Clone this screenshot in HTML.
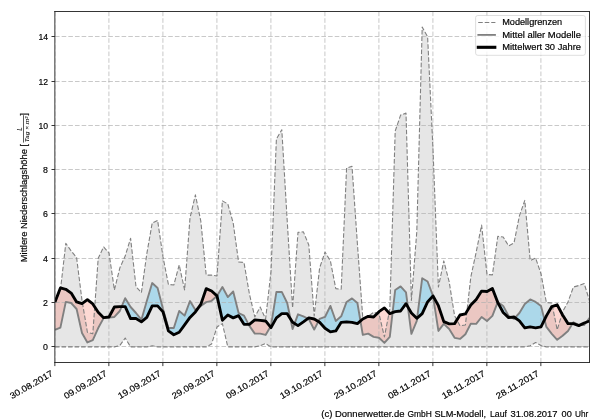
<!DOCTYPE html>
<html><head><meta charset="utf-8"><title>Niederschlag</title>
<style>html,body{margin:0;padding:0;background:#fff}body{width:600px;height:420px;overflow:hidden;font-family:"Liberation Sans",sans-serif}</style></head>
<body>
<svg width="600" height="420" viewBox="0 0 600 420" style="display:block">
<rect width="600" height="420" fill="#fff"/>
<defs><clipPath id="c"><rect x="55" y="11.5" width="534.5" height="351"/></clipPath></defs>
<g clip-path="url(#c)">
<path d="M55 302.58 L60.4 290.39 L65.8 243.41 L71.2 250.95 L76.6 257.6 L82 300.36 L87.4 332.27 L92.8 333.83 L98.2 258.26 L103.6 246.96 L109 252.94 L114.4 289.95 L119.8 268.01 L125.2 256.04 L130.6 238.32 L136 286.62 L141.4 292.61 L146.8 253.83 L152.2 223.03 L157.6 220.37 L163 256.93 L168.4 284.41 L173.8 285.07 L179.2 264.91 L184.6 289.95 L190 217.93 L195.4 194.88 L200.8 221.03 L206.2 275.1 L211.6 275.1 L217 275.99 L222.4 200.87 L227.8 203.97 L233.2 223.03 L238.6 262.03 L244 262.47 L249.4 293.94 L254.8 316.98 L260.2 307.01 L265.6 318.98 L271 271.56 L276.4 139.04 L281.8 129.73 L287.2 220.59 L292.6 307.9 L298 232.33 L303.4 231.89 L308.8 244.96 L314.2 315.88 L319.6 268.01 L325 252.06 L330.4 260.92 L335.8 288.62 L341.2 289.28 L346.6 168.07 L352 166.3 L357.4 243.86 L362.8 318.09 L368.2 316.32 L373.6 312.33 L379 313.66 L384.4 336.93 L389.8 309.23 L395.2 131.06 L400.6 115.11 L406 113.11 L411.4 300.36 L416.8 231.67 L422.2 27.13 L427.6 36.66 L433 149.68 L438.4 287.07 L443.8 260.92 L449.2 281.97 L454.6 315.88 L460 325.85 L465.4 324.96 L470.8 277.1 L476.2 252.06 L481.6 225.02 L487 274.44 L492.4 274.88 L497.8 236.32 L503.2 236.99 L508.6 245.85 L514 242.97 L519.4 215.93 L524.8 200.42 L530.2 260.48 L535.6 258.04 L541 273.77 L546.4 302.58 L551.8 303.02 L557.2 329.84 L562.6 311.89 L568 301.92 L573.4 287.07 L578.8 285.52 L584.2 283.52 L589.6 301.03 L589.6 346.9 L584.2 346.9 L578.8 346.9 L573.4 346.9 L568 346.9 L562.6 346.9 L557.2 346.9 L551.8 346.9 L546.4 346.9 L541 345.57 L535.6 342.47 L530.2 345.79 L524.8 346.9 L519.4 346.9 L514 346.9 L508.6 346.9 L503.2 346.9 L497.8 346.9 L492.4 346.9 L487 346.9 L481.6 346.9 L476.2 346.9 L470.8 346.9 L465.4 346.9 L460 346.9 L454.6 346.9 L449.2 346.9 L443.8 346.9 L438.4 346.9 L433 346.9 L427.6 346.9 L422.2 346.9 L416.8 346.9 L411.4 346.9 L406 346.9 L400.6 346.9 L395.2 346.9 L389.8 346.9 L384.4 346.9 L379 346.9 L373.6 346.9 L368.2 346.9 L362.8 346.9 L357.4 346.9 L352 346.9 L346.6 346.9 L341.2 346.9 L335.8 346.9 L330.4 346.9 L325 346.9 L319.6 346.9 L314.2 346.9 L308.8 346.9 L303.4 346.9 L298 346.9 L292.6 346.9 L287.2 346.9 L281.8 346.9 L276.4 346.9 L271 346.9 L265.6 343.58 L260.2 345.79 L254.8 346.9 L249.4 346.9 L244 346.9 L238.6 346.9 L233.2 346.9 L227.8 346.9 L222.4 323.63 L217 326.96 L211.6 344.02 L206.2 346.9 L200.8 346.9 L195.4 346.9 L190 346.9 L184.6 346.9 L179.2 346.9 L173.8 346.9 L168.4 346.9 L163 346.9 L157.6 346.9 L152.2 345.79 L146.8 346.9 L141.4 346.9 L136 346.9 L130.6 346.9 L125.2 338.04 L119.8 345.57 L114.4 346.9 L109 346.9 L103.6 346.9 L98.2 346.9 L92.8 346.9 L87.4 346.9 L82 346.9 L76.6 346.9 L71.2 346.9 L65.8 346.9 L60.4 346.9 L55 346.9Z" fill="#808080" fill-opacity="0.2"/>
<path d="M121.66 306.57 L125.2 298.15 L130.6 307.01 L136 313 L141.4 319.64 L146.8 301.03 L152.2 283.08 L157.6 287.95 L163 309.01 L168.4 328.06 L173.8 328.06 L179.2 311 L184.6 315.65 L190 301.03 L195.4 309.89 L198.44 307.65 L198.44 307.65 L195.4 311.89 L190 317.43 L184.6 324.96 L179.2 332.27 L173.8 334.71 L168.4 330.94 L163 311.89 L157.6 305.9 L152.2 305.9 L146.8 317.43 L141.4 321.86 L136 318.54 L130.6 318.54 L125.2 306.57 L121.66 306.57Z M217 295.93 L222.4 287.07 L227.8 297.04 L233.2 291.5 L238.6 313 L244 315.65 L248.58 324.3 L248.58 324.3 L244 324.3 L238.6 315.65 L233.2 317.87 L227.8 314.99 L222.4 320.31 L217 295.93Z M270.39 326.87 L271 325.85 L276.4 291.94 L281.8 291.94 L287.2 303.02 L290.52 318.98 L290.52 318.98 L287.2 313.66 L281.8 313.66 L276.4 317.87 L271 327.62 L270.39 326.87Z M294.6 323.53 L298 314.32 L303.4 316.32 L307.9 318.54 L307.9 318.54 L303.4 321.86 L298 325.63 L294.6 323.53Z M318.31 321.51 L319.6 318.98 L325 316.98 L330.4 305.9 L335.8 320.97 L341.2 316.32 L346.6 301.92 L352 298.37 L357.4 303.02 L360.44 321.01 L360.44 321.01 L357.4 323.63 L352 322.3 L346.6 321.86 L341.2 322.3 L335.8 330.94 L330.4 331.83 L325 328.29 L319.6 322.3 L318.31 321.51Z M392.59 312.63 L395.2 289.95 L400.6 286.4 L406 292.39 L407.9 306.96 L407.9 306.96 L406 303.69 L400.6 311 L395.2 311.67 L392.59 312.63Z M417.18 317.99 L422.2 278.2 L427.6 281.53 L433 295.93 L433 295.93 L427.6 301.92 L422.2 313.66 L417.18 317.99Z M497.67 302.24 L497.8 301.92 L503.2 305.9 L508.6 315.88 L511.14 317.34 L511.14 317.34 L508.6 317.65 L503.2 312.55 L497.8 302.58 L497.67 302.24Z M515.08 317.78 L519.4 313 L524.8 303.91 L530.2 299.48 L535.6 301.92 L541 305.9 L544.54 319.7 L544.54 319.7 L541 326.96 L535.6 327.84 L530.2 326.96 L524.8 327.84 L519.4 320.97 L515.08 317.78Z M572.57 323.63 L573.4 322.3 L578.8 324.96 L580.15 324.96 L580.15 324.96 L578.8 325.63 L573.4 323.63 L572.57 323.63Z M586.31 322.19 L589.6 317.87 L589.6 320.97 L586.31 322.19Z " fill="#87ceeb" fill-opacity="0.62"/>
<path d="M55 329.84 L60.4 327.62 L65.8 301.92 L71.2 303.02 L76.6 309.01 L82 332.94 L87.4 342.47 L92.8 340.03 L98.2 328.06 L103.6 318.09 L109 317.43 L114.4 316.98 L119.8 311 L121.66 306.57 L121.66 306.57 L119.8 306.57 L114.4 307.01 L109 316.98 L103.6 317.65 L98.2 312.33 L92.8 303.91 L87.4 299.7 L82 303.69 L76.6 301.92 L71.2 293.05 L65.8 289.28 L60.4 287.95 L55 301.92Z M198.44 307.65 L200.8 305.9 L206.2 302.14 L211.6 300.81 L217 295.93 L217 295.93 L211.6 291.06 L206.2 288.62 L200.8 304.35 L198.44 307.65Z M248.58 324.3 L249.4 325.85 L254.8 333.6 L260.2 333.6 L265.6 334.93 L270.39 326.87 L270.39 326.87 L265.6 320.97 L260.2 320.31 L254.8 319.86 L249.4 324.3 L248.58 324.3Z M290.52 318.98 L292.6 328.95 L294.6 323.53 L294.6 323.53 L292.6 322.3 L290.52 318.98Z M307.9 318.54 L308.8 318.98 L314.2 329.62 L318.31 321.51 L318.31 321.51 L314.2 318.98 L308.8 317.87 L307.9 318.54Z M360.44 321.01 L362.8 334.93 L368.2 333.6 L373.6 336.93 L379 337.81 L384.4 342.91 L389.8 336.93 L392.59 312.63 L392.59 312.63 L389.8 313.66 L384.4 307.9 L379 311.67 L373.6 316.98 L368.2 316.32 L362.8 318.98 L360.44 321.01Z M407.9 306.96 L411.4 333.83 L416.8 320.97 L417.18 317.99 L417.18 317.99 L416.8 318.31 L411.4 313 L407.9 306.96Z M433 295.93 L438.4 330.94 L443.8 323.85 L449.2 328.95 L454.6 337.81 L460 338.92 L465.4 334.27 L470.8 323.63 L476.2 323.85 L481.6 316.98 L487 320.97 L492.4 315.88 L497.67 302.24 L497.67 302.24 L492.4 288.4 L487 291.5 L481.6 291.06 L476.2 299.48 L470.8 305.02 L465.4 313.88 L460 314.99 L454.6 323.63 L449.2 323.85 L443.8 321.64 L438.4 305.68 L433 295.93Z M511.14 317.34 L514 318.98 L515.08 317.78 L515.08 317.78 L514 316.98 L511.14 317.34Z M544.54 319.7 L546.4 326.96 L551.8 333.83 L557.2 339.81 L562.6 335.82 L568 330.94 L572.57 323.63 L572.57 323.63 L568 323.63 L562.6 314.99 L557.2 304.8 L551.8 306.57 L546.4 315.88 L544.54 319.7Z M580.15 324.96 L584.2 324.96 L586.31 322.19 L586.31 322.19 L584.2 322.97 L580.15 324.96Z " fill="#fa8072" fill-opacity="0.3"/>
<path d="M54.9 362.5 V11.5 M108.9 362.5 V11.5 M162.9 362.5 V11.5 M216.9 362.5 V11.5 M270.9 362.5 V11.5 M324.9 362.5 V11.5 M378.9 362.5 V11.5 M432.9 362.5 V11.5 M486.9 362.5 V11.5 M540.9 362.5 V11.5 M55 346.5 H589.5 M55 302.5 H589.5 M55 258.5 H589.5 M55 213.5 H589.5 M55 169.5 H589.5 M55 125.5 H589.5 M55 81.5 H589.5 M55 36.5 H589.5" stroke="#b0b0b0" stroke-opacity="0.68" stroke-width="1.0" stroke-dasharray="4.6 2.06" fill="none"/>
<polyline points="55,302.58 60.4,290.39 65.8,243.41 71.2,250.95 76.6,257.6 82,300.36 87.4,332.27 92.8,333.83 98.2,258.26 103.6,246.96 109,252.94 114.4,289.95 119.8,268.01 125.2,256.04 130.6,238.32 136,286.62 141.4,292.61 146.8,253.83 152.2,223.03 157.6,220.37 163,256.93 168.4,284.41 173.8,285.07 179.2,264.91 184.6,289.95 190,217.93 195.4,194.88 200.8,221.03 206.2,275.1 211.6,275.1 217,275.99 222.4,200.87 227.8,203.97 233.2,223.03 238.6,262.03 244,262.47 249.4,293.94 254.8,316.98 260.2,307.01 265.6,318.98 271,271.56 276.4,139.04 281.8,129.73 287.2,220.59 292.6,307.9 298,232.33 303.4,231.89 308.8,244.96 314.2,315.88 319.6,268.01 325,252.06 330.4,260.92 335.8,288.62 341.2,289.28 346.6,168.07 352,166.3 357.4,243.86 362.8,318.09 368.2,316.32 373.6,312.33 379,313.66 384.4,336.93 389.8,309.23 395.2,131.06 400.6,115.11 406,113.11 411.4,300.36 416.8,231.67 422.2,27.13 427.6,36.66 433,149.68 438.4,287.07 443.8,260.92 449.2,281.97 454.6,315.88 460,325.85 465.4,324.96 470.8,277.1 476.2,252.06 481.6,225.02 487,274.44 492.4,274.88 497.8,236.32 503.2,236.99 508.6,245.85 514,242.97 519.4,215.93 524.8,200.42 530.2,260.48 535.6,258.04 541,273.77 546.4,302.58 551.8,303.02 557.2,329.84 562.6,311.89 568,301.92 573.4,287.07 578.8,285.52 584.2,283.52 589.6,301.03" fill="none" stroke="#808080" stroke-width="1.1" stroke-dasharray="4.55 1.97" stroke-linejoin="round"/>
<polyline points="55,346.9 60.4,346.9 65.8,346.9 71.2,346.9 76.6,346.9 82,346.9 87.4,346.9 92.8,346.9 98.2,346.9 103.6,346.9 109,346.9 114.4,346.9 119.8,345.57 125.2,338.04 130.6,346.9 136,346.9 141.4,346.9 146.8,346.9 152.2,345.79 157.6,346.9 163,346.9 168.4,346.9 173.8,346.9 179.2,346.9 184.6,346.9 190,346.9 195.4,346.9 200.8,346.9 206.2,346.9 211.6,344.02 217,326.96 222.4,323.63 227.8,346.9 233.2,346.9 238.6,346.9 244,346.9 249.4,346.9 254.8,346.9 260.2,345.79 265.6,343.58 271,346.9 276.4,346.9 281.8,346.9 287.2,346.9 292.6,346.9 298,346.9 303.4,346.9 308.8,346.9 314.2,346.9 319.6,346.9 325,346.9 330.4,346.9 335.8,346.9 341.2,346.9 346.6,346.9 352,346.9 357.4,346.9 362.8,346.9 368.2,346.9 373.6,346.9 379,346.9 384.4,346.9 389.8,346.9 395.2,346.9 400.6,346.9 406,346.9 411.4,346.9 416.8,346.9 422.2,346.9 427.6,346.9 433,346.9 438.4,346.9 443.8,346.9 449.2,346.9 454.6,346.9 460,346.9 465.4,346.9 470.8,346.9 476.2,346.9 481.6,346.9 487,346.9 492.4,346.9 497.8,346.9 503.2,346.9 508.6,346.9 514,346.9 519.4,346.9 524.8,346.9 530.2,345.79 535.6,342.47 541,345.57 546.4,346.9 551.8,346.9 557.2,346.9 562.6,346.9 568,346.9 573.4,346.9 578.8,346.9 584.2,346.9 589.6,346.9" fill="none" stroke="#808080" stroke-width="1.1" stroke-dasharray="4.55 1.97" stroke-linejoin="round"/>
<polyline points="55,329.84 60.4,327.62 65.8,301.92 71.2,303.02 76.6,309.01 82,332.94 87.4,342.47 92.8,340.03 98.2,328.06 103.6,318.09 109,317.43 114.4,316.98 119.8,311 125.2,298.15 130.6,307.01 136,313 141.4,319.64 146.8,301.03 152.2,283.08 157.6,287.95 163,309.01 168.4,328.06 173.8,328.06 179.2,311 184.6,315.65 190,301.03 195.4,309.89 200.8,305.9 206.2,302.14 211.6,300.81 217,295.93 222.4,287.07 227.8,297.04 233.2,291.5 238.6,313 244,315.65 249.4,325.85 254.8,333.6 260.2,333.6 265.6,334.93 271,325.85 276.4,291.94 281.8,291.94 287.2,303.02 292.6,328.95 298,314.32 303.4,316.32 308.8,318.98 314.2,329.62 319.6,318.98 325,316.98 330.4,305.9 335.8,320.97 341.2,316.32 346.6,301.92 352,298.37 357.4,303.02 362.8,334.93 368.2,333.6 373.6,336.93 379,337.81 384.4,342.91 389.8,336.93 395.2,289.95 400.6,286.4 406,292.39 411.4,333.83 416.8,320.97 422.2,278.2 427.6,281.53 433,295.93 438.4,330.94 443.8,323.85 449.2,328.95 454.6,337.81 460,338.92 465.4,334.27 470.8,323.63 476.2,323.85 481.6,316.98 487,320.97 492.4,315.88 497.8,301.92 503.2,305.9 508.6,315.88 514,318.98 519.4,313 524.8,303.91 530.2,299.48 535.6,301.92 541,305.9 546.4,326.96 551.8,333.83 557.2,339.81 562.6,335.82 568,330.94 573.4,322.3 578.8,324.96 584.2,324.96 589.6,317.87" fill="none" stroke="#808080" stroke-width="1.9" stroke-linejoin="round"/>
<polyline points="55,301.92 60.4,287.95 65.8,289.28 71.2,293.05 76.6,301.92 82,303.69 87.4,299.7 92.8,303.91 98.2,312.33 103.6,317.65 109,316.98 114.4,307.01 119.8,306.57 125.2,306.57 130.6,318.54 136,318.54 141.4,321.86 146.8,317.43 152.2,305.9 157.6,305.9 163,311.89 168.4,330.94 173.8,334.71 179.2,332.27 184.6,324.96 190,317.43 195.4,311.89 200.8,304.35 206.2,288.62 211.6,291.06 217,295.93 222.4,320.31 227.8,314.99 233.2,317.87 238.6,315.65 244,324.3 249.4,324.3 254.8,319.86 260.2,320.31 265.6,320.97 271,327.62 276.4,317.87 281.8,313.66 287.2,313.66 292.6,322.3 298,325.63 303.4,321.86 308.8,317.87 314.2,318.98 319.6,322.3 325,328.29 330.4,331.83 335.8,330.94 341.2,322.3 346.6,321.86 352,322.3 357.4,323.63 362.8,318.98 368.2,316.32 373.6,316.98 379,311.67 384.4,307.9 389.8,313.66 395.2,311.67 400.6,311 406,303.69 411.4,313 416.8,318.31 422.2,313.66 427.6,301.92 433,295.93 438.4,305.68 443.8,321.64 449.2,323.85 454.6,323.63 460,314.99 465.4,313.88 470.8,305.02 476.2,299.48 481.6,291.06 487,291.5 492.4,288.4 497.8,302.58 503.2,312.55 508.6,317.65 514,316.98 519.4,320.97 524.8,327.84 530.2,326.96 535.6,327.84 541,326.96 546.4,315.88 551.8,306.57 557.2,304.8 562.6,314.99 568,323.63 573.4,323.63 578.8,325.63 584.2,322.97 589.6,320.97" fill="none" stroke="#000" stroke-width="2.85" stroke-linejoin="round" stroke-linecap="butt"/>
</g>
<path d="M54.85 11 V363 M589.5 11 V363 M54.3 11.5 H590 M54.3 362.5 H590" fill="none" stroke="#2a2a2a" stroke-width="0.95"/>
<g opacity="0.999" stroke="#000" stroke-width="0.18">
<path d="M54.85 362.5 v3.6 M108.85 362.5 v3.6 M162.85 362.5 v3.6 M216.85 362.5 v3.6 M270.85 362.5 v3.6 M324.85 362.5 v3.6 M378.85 362.5 v3.6 M432.85 362.5 v3.6 M486.85 362.5 v3.6 M540.85 362.5 v3.6 M55 346.5 h-3.5 M55 302.5 h-3.5 M55 258.5 h-3.5 M55 213.5 h-3.5 M55 169.5 h-3.5 M55 125.5 h-3.5 M55 81.5 h-3.5 M55 36.5 h-3.5" stroke="#2a2a2a" stroke-width="0.95" fill="none"/>
<text x="48" y="349.6" font-family="Liberation Sans, sans-serif" font-size="8.7" text-anchor="end" textLength="4.9" lengthAdjust="spacingAndGlyphs" fill="#000">0</text>
<text x="48" y="305.6" font-family="Liberation Sans, sans-serif" font-size="8.7" text-anchor="end" textLength="4.9" lengthAdjust="spacingAndGlyphs" fill="#000">2</text>
<text x="48" y="261.6" font-family="Liberation Sans, sans-serif" font-size="8.7" text-anchor="end" textLength="4.9" lengthAdjust="spacingAndGlyphs" fill="#000">4</text>
<text x="48" y="216.6" font-family="Liberation Sans, sans-serif" font-size="8.7" text-anchor="end" textLength="4.9" lengthAdjust="spacingAndGlyphs" fill="#000">6</text>
<text x="48" y="172.6" font-family="Liberation Sans, sans-serif" font-size="8.7" text-anchor="end" textLength="4.9" lengthAdjust="spacingAndGlyphs" fill="#000">8</text>
<text x="48" y="128.6" font-family="Liberation Sans, sans-serif" font-size="8.7" text-anchor="end" textLength="9.6" lengthAdjust="spacingAndGlyphs" fill="#000">10</text>
<text x="48" y="84.6" font-family="Liberation Sans, sans-serif" font-size="8.7" text-anchor="end" textLength="9.6" lengthAdjust="spacingAndGlyphs" fill="#000">12</text>
<text x="48" y="39.6" font-family="Liberation Sans, sans-serif" font-size="8.7" text-anchor="end" textLength="9.6" lengthAdjust="spacingAndGlyphs" fill="#000">14</text>
<text transform="translate(53.7 375.2) rotate(-30)" font-family="Liberation Sans, sans-serif" font-size="8.7" text-anchor="end" textLength="48.2" lengthAdjust="spacingAndGlyphs" fill="#000">30.08.2017</text>
<text transform="translate(107.7 375.2) rotate(-30)" font-family="Liberation Sans, sans-serif" font-size="8.7" text-anchor="end" textLength="48.2" lengthAdjust="spacingAndGlyphs" fill="#000">09.09.2017</text>
<text transform="translate(161.7 375.2) rotate(-30)" font-family="Liberation Sans, sans-serif" font-size="8.7" text-anchor="end" textLength="48.2" lengthAdjust="spacingAndGlyphs" fill="#000">19.09.2017</text>
<text transform="translate(215.7 375.2) rotate(-30)" font-family="Liberation Sans, sans-serif" font-size="8.7" text-anchor="end" textLength="48.2" lengthAdjust="spacingAndGlyphs" fill="#000">29.09.2017</text>
<text transform="translate(269.7 375.2) rotate(-30)" font-family="Liberation Sans, sans-serif" font-size="8.7" text-anchor="end" textLength="48.2" lengthAdjust="spacingAndGlyphs" fill="#000">09.10.2017</text>
<text transform="translate(323.7 375.2) rotate(-30)" font-family="Liberation Sans, sans-serif" font-size="8.7" text-anchor="end" textLength="48.2" lengthAdjust="spacingAndGlyphs" fill="#000">19.10.2017</text>
<text transform="translate(377.7 375.2) rotate(-30)" font-family="Liberation Sans, sans-serif" font-size="8.7" text-anchor="end" textLength="48.2" lengthAdjust="spacingAndGlyphs" fill="#000">29.10.2017</text>
<text transform="translate(431.7 375.2) rotate(-30)" font-family="Liberation Sans, sans-serif" font-size="8.7" text-anchor="end" textLength="48.2" lengthAdjust="spacingAndGlyphs" fill="#000">08.11.2017</text>
<text transform="translate(485.7 375.2) rotate(-30)" font-family="Liberation Sans, sans-serif" font-size="8.7" text-anchor="end" textLength="48.2" lengthAdjust="spacingAndGlyphs" fill="#000">18.11.2017</text>
<text transform="translate(539.7 375.2) rotate(-30)" font-family="Liberation Sans, sans-serif" font-size="8.7" text-anchor="end" textLength="48.2" lengthAdjust="spacingAndGlyphs" fill="#000">28.11.2017</text>
<g transform="translate(27 262.2) rotate(-90)" font-family="Liberation Sans, sans-serif" fill="#000">
<text x="0" y="0" font-size="8.7" textLength="118.3" lengthAdjust="spacingAndGlyphs">Mittlere Niederschlagshöhe [</text>
<text x="133.2" y="-4.9" font-size="6.3" font-style="italic" text-anchor="middle" stroke-width="0.05">L</text>
<path d="M119.6 -3.5 H147" stroke="#000" stroke-width="0.65"/>
<text x="119.9" y="2.3" font-size="6" font-style="italic" stroke-width="0.05" textLength="25.8" lengthAdjust="spacingAndGlyphs">Tag × m²</text>
<text x="146.8" y="0" font-size="8.7">]</text>
</g>
<rect x="475.6" y="15.5" width="109.8" height="39.8" rx="2.2" fill="#fff" fill-opacity="0.8" stroke="#ccc" stroke-opacity="0.65" stroke-width="1.0"/>
<path d="M478.2 22.5 H495.4" stroke="#808080" stroke-width="1.1" stroke-dasharray="4.55 1.97"/>
<path d="M478.3 34.9 H495.0" stroke="#808080" stroke-width="1.8" stroke-linecap="square"/>
<path d="M478.3 47.3 H494.8" stroke="#000" stroke-width="3.1" stroke-linecap="square"/>
<text x="502.2" y="25.2" font-family="Liberation Sans, sans-serif" font-size="8.7" textLength="60" lengthAdjust="spacingAndGlyphs">Modellgrenzen</text>
<text x="502.2" y="37.7" font-family="Liberation Sans, sans-serif" font-size="8.7" textLength="78.8" lengthAdjust="spacingAndGlyphs">Mittel aller Modelle</text>
<text x="502.2" y="50.1" font-family="Liberation Sans, sans-serif" font-size="8.7" textLength="78.8" lengthAdjust="spacingAndGlyphs">Mittelwert 30 Jahre</text>
<text x="321.3" y="417.4" font-family="Liberation Sans, sans-serif" font-size="8.7" textLength="11.2" lengthAdjust="spacingAndGlyphs">(c)</text>
<text x="335" y="417.4" font-family="Liberation Sans, sans-serif" font-size="8.7" textLength="69.5" lengthAdjust="spacingAndGlyphs">Donnerwetter.de</text>
<text x="407.5" y="417.4" font-family="Liberation Sans, sans-serif" font-size="8.7" textLength="24.3" lengthAdjust="spacingAndGlyphs">GmbH</text>
<text x="434.4" y="417.4" font-family="Liberation Sans, sans-serif" font-size="8.7" textLength="51.6" lengthAdjust="spacingAndGlyphs">SLM-Modell,</text>
<text x="490" y="417.4" font-family="Liberation Sans, sans-serif" font-size="8.7" textLength="17" lengthAdjust="spacingAndGlyphs">Lauf</text>
<text x="510.6" y="417.4" font-family="Liberation Sans, sans-serif" font-size="8.7" textLength="46.9" lengthAdjust="spacingAndGlyphs">31.08.2017</text>
<text x="561.6" y="417.4" font-family="Liberation Sans, sans-serif" font-size="8.7" textLength="10.2" lengthAdjust="spacingAndGlyphs">00</text>
<text x="575" y="417.4" font-family="Liberation Sans, sans-serif" font-size="8.7" textLength="13.3" lengthAdjust="spacingAndGlyphs">Uhr</text>
</g>
</svg>
</body></html>
